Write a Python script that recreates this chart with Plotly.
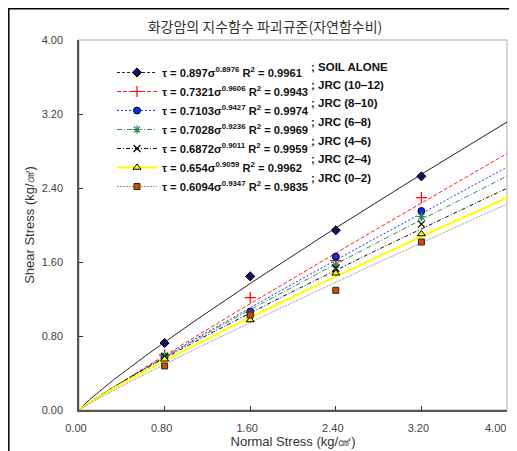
import numpy as np
import plotly.graph_objects as go

# ---- data ----
normal_stress = [0.8, 1.6, 2.4, 3.2]
soil_alone = [0.724, 1.445, 1.943, 2.526]
jrc_10_12 = [0.595, 1.214, 1.614, 2.295]
jrc_8_10 = [0.577, 1.063, 1.658, 2.151]
jrc_6_8 = [0.590, 1.038, 1.568, 2.090]
jrc_4_6 = [0.577, 0.990, 1.532, 2.010]
jrc_2_4 = [0.548, 0.973, 1.478, 1.903]
jrc_0_2 = [0.476, 1.027, 1.294, 1.816]

series_labels = ["; SOIL ALONE", "; JRC (10\u201212)", "; JRC (8\u201210)", "; JRC (6\u20128)",
                 "; JRC (4\u20126)", "; JRC (2\u20124)", "; JRC (0\u20122)"]
coef_a = [0.897, 0.7321, 0.7103, 0.7028, 0.6872, 0.654, 0.6094]
coef_b = [0.8976, 0.9606, 0.9427, 0.9236, 0.9011, 0.9059, 0.9347]
coef_a_text = ["0.897", "0.7321", "0.7103", "0.7028", "0.6872", "0.654", "0.6094"]
coef_b_text = ["0.8976", "0.9606", "0.9427", "0.9236", "0.9011", "0.9059", "0.9347"]
r2_text = ["0.9961", "0.9943", "0.9974", "0.9969", "0.9959", "0.9962", "0.9835"]
x_ticks = [0.0, 0.8, 1.6, 2.4, 3.2, 4.0]
tick_labels = ["0.00", "0.80", "1.60", "2.40", "3.20", "4.00"]

all_values = [soil_alone, jrc_10_12, jrc_8_10, jrc_6_8, jrc_4_6, jrc_2_4, jrc_0_2]

# ---- styles ----
line_styles = [
    dict(color="#222222", width=1, dash="solid"),
    dict(color="#ff2020", width=1, dash="4px,2px"),
    dict(color="#2030ff", width=1, dash="2px,2px"),
    dict(color="#2e8b57", width=1, dash="5px,2px,1px,2px"),
    dict(color="#111111", width=1, dash="4px,2px,1px,2px"),
    dict(color="#ffff00", width=2, dash="solid"),
    dict(color="#a0a0a0", width=1, dash="2px,1px"),
]
legend_line = [
    dict(color="#222222", width=1, dash="3px,2px"),
    line_styles[1], line_styles[2], line_styles[3], line_styles[4], line_styles[5], line_styles[6],
]
markers = [
    dict(symbol="diamond", size=7, color="#101060", line=dict(color="#000000", width=1)),
    dict(symbol="cross-thin", size=8, color="#ff0000", line=dict(color="#ff0000", width=1.2)),
    dict(symbol="circle", size=7, color="#1030d0", line=dict(color="#000040", width=1)),
    dict(symbol="asterisk", size=7, color="#2e8b57", line=dict(color="#2e8b57", width=1.2)),
    dict(symbol="x-thin", size=7, color="#000000", line=dict(color="#000000", width=1.2)),
    dict(symbol="triangle-up", size=7, color="#ffff00", line=dict(color="#000000", width=1)),
    dict(symbol="square", size=6, color="#c05010", line=dict(color="#402000", width=1)),
]

fig = go.Figure()

sig = np.linspace(0, 4, 161)
for i in range(len(all_values)):
    fig.add_trace(go.Scatter(x=sig, y=coef_a[i] * sig ** coef_b[i], mode="lines",
                             line=line_styles[i], showlegend=False, hoverinfo="skip"))

for i, vals in enumerate(all_values):
    fig.add_trace(go.Scatter(x=normal_stress, y=vals, mode="markers", marker=markers[i],
                             showlegend=False))

for i in range(len(all_values)):
    name = ("\u03c4 = %s\u03c3<sup>%s</sup> R<sup>2</sup> = %s"
            % (coef_a_text[i], coef_b_text[i], r2_text[i]))
    fig.add_trace(go.Scatter(x=[None], y=[None], mode="lines+markers", name="<b>" + name + "</b>",
                             line=legend_line[i], marker=markers[i]))

# page offset (body margin) of 8 px
OFF = 8
W, H = 517 - OFF, 451 - OFF
L, R, T, B = 79 - OFF, 10, 40 - OFF, 41
pw, ph = W - L - R, H - T - B


def px_x(p):
    return (p - OFF - L) / pw


def px_y(p):
    return (H - B - (p - OFF)) / ph


label_y = [67, 85, 103, 122, 141, 159, 178]
for lab, yy in zip(series_labels, label_y):
    fig.add_annotation(text="<b>" + lab + "</b>", xref="paper", yref="paper",
                       x=px_x(309), y=px_y(yy), xanchor="left", yanchor="middle",
                       showarrow=False, font=dict(size=11.5, color="#111111", family="Liberation Sans, Arial"))

axis_font = dict(size=11, color="#444444", family="Liberation Sans, Arial")

# last x tick label kept inside the visible page edge
shown_x_labels = tick_labels[:-1] + [""]
fig.add_annotation(text=tick_labels[-1], xref="paper", yref="paper", x=px_x(508), y=px_y(428),
                   xanchor="right", yanchor="middle", showarrow=False, font=axis_font)

# outer frame and plot border
fig.add_shape(type="rect", xref="paper", yref="paper", x0=px_x(8.8), x1=px_x(560),
              y0=px_y(500), y1=px_y(8.8), line=dict(color="#000000", width=1.5), layer="below")
fig.add_shape(type="rect", xref="paper", yref="paper", x0=0, x1=1, y0=0, y1=1,
              line=dict(color="#c8c8c8", width=1.5), layer="below")

fig.update_layout(
    width=W, height=H,
    margin=dict(l=L, r=R, t=T, b=B, autoexpand=False),
    paper_bgcolor="white", plot_bgcolor="white",
    title=dict(text="화강암의 지수함수 파괴규준(자연함수비)", x=(265 - OFF) / W, xanchor="center",
               y=1 - (27 - OFF) / H, yanchor="middle", yref="container",
               font=dict(size=14, color="#333333", family="Noto Sans CJK KR")),
    xaxis=dict(range=[0, 4], tickvals=x_ticks, ticktext=shown_x_labels, showgrid=False, zeroline=False,
               showline=True, linecolor="#555555", linewidth=1.5, ticks="inside", ticklen=4,
               tickcolor="#333333", tickfont=axis_font, ticklabelstandoff=7, automargin=False,
               ticklabeloverflow="allow", ticklabelshift=-3,
               title=dict(text="Normal Stress (kg/㎠)", standoff=0,
                          font=dict(size=13, color="#333333", family="Liberation Sans, Arial"))),
    yaxis=dict(range=[0, 4], tickvals=x_ticks, ticktext=tick_labels, showgrid=False, zeroline=False,
               showline=True, linecolor="#555555", linewidth=1.5, ticks="inside", ticklen=4,
               tickcolor="#333333", tickfont=axis_font, ticklabelstandoff=12, automargin=False,
               ticklabeloverflow="allow",
               title=dict(text="Shear Stress (kg/㎠)", standoff=4,
                          font=dict(size=13, color="#333333", family="Liberation Sans, Arial"))),
    legend=dict(x=px_x(112), y=px_y(58), xanchor="left", yanchor="top",
                bgcolor="rgba(0,0,0,0)", borderwidth=0, itemwidth=40, tracegroupgap=0,
                font=dict(size=11.2, color="#111111", family="Liberation Sans, Arial")),
    showlegend=True,
)

fig.write_html("out.html")
